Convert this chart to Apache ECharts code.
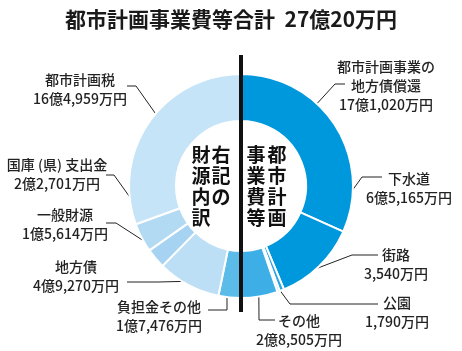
<!DOCTYPE html>
<html>
<head>
<meta charset="utf-8">
<script src="https://cdn.jsdelivr.net/npm/echarts@6/dist/echarts.min.js"></script>
<style>
  html, body { margin: 0; padding: 0; background: #fff; }
  #chart { width: 462px; height: 351px; }
</style>
</head>
<body>
<div id="chart"></div>
<script>
  // 単位: 万円
  var names = ['都市計画事業の\n地方債償還', '下水道', '街路', '公園', 'その他',
               '負担金その他', '地方債', '一般財源', '国庫 (県) 支出金', '都市計画税'];
  var values = [171020, 65165, 3540, 1790, 28505,
                17476, 49270, 15614, 22701, 164959];
  var colors = ['#0098dc', '#0098dc', '#2fa6e4', '#2fa6e4', '#3eaee6',
                '#5bbbe9', '#bcdff5', '#a6d3f1', '#b3daf3', '#c6e4f7'];
  var titleText = '都市計画事業費等合計  27億20万円';

  var cx = 241, cy = 186;
  var total = values.reduce(function (a, b) { return a + b; }, 0);

  // ラベル位置と引出線 (t: スライス内の位置, r: 半径)
  var spots = [
    { x: 386, y: 86,  t: 0.375, r: 90,  bend: [335, 84],  end: [345, 84] },
    { x: 409, y: 188, t: 0.28,  r: 93,  bend: [362, 177], end: [382, 177] },
    { x: 396, y: 264, t: 0.5,   r: 104, bend: [352, 255], end: [378, 255] },
    { x: 397, y: 312, t: 0.5,   r: 106, bend: [290, 304], end: [378, 304] },
    { x: 299, y: 330, t: 0.5,   r: 108, bend: [259, 320], end: [275, 320] },
    { x: 159, y: 316, t: 0.64,  r: 108, bend: [227, 310], end: [208, 310] },
    { x: 76,  y: 276, t: 0.53,  r: 109, bend: [158, 282], end: [127, 282] },
    { x: 65,  y: 224, t: 0.61,  r: 104, bend: [116, 223], end: [106, 223] },
    { x: 57,  y: 174, t: 0.75,  r: 99,  bend: [114, 175], end: [106, 175] },
    { x: 80,  y: 89,  t: 0.53,  r: 99,  bend: [136, 86],  end: [127, 86] }
  ];

  function fmt(v) {
    var oku = Math.floor(v / 10000);
    var man = v % 10000;
    var m = man.toString().replace(/\B(?=(\d{3})+(?!\d))/g, ',');
    return (oku > 0 ? oku + '億' : '') + m + '万円';
  }

  function startPoint(i) {
    var before = 0;
    for (var k = 0; k < i; k++) before += values[k];
    var deg = (before + values[i] * spots[i].t) / total * 360;
    var a = deg * Math.PI / 180;
    return [cx + spots[i].r * Math.sin(a), cy - spots[i].r * Math.cos(a)];
  }

  var pieData = names.map(function (n, i) {
    return { name: n, value: values[i], itemStyle: { color: colors[i] } };
  });

  var chart = echarts.init(document.getElementById('chart'));
  chart.setOption({
    animation: false,
    title: {
      text: titleText,
      left: 'center',
      top: 9,
      padding: 0,
      textStyle: { fontFamily: 'Noto Sans CJK JP', fontSize: 21, fontWeight: 'bold', color: '#1a1a1a' }
    },
    series: [{
      type: 'pie',
      center: [cx, cy],
      radius: [65, 112],
      startAngle: 90,
      clockwise: true,
      avoidLabelOverlap: false,
      emphasis: { disabled: true },
      itemStyle: { borderColor: '#fff', borderWidth: 2 },
      label: {
        show: true,
        position: 'outside',
        formatter: function (p) { return p.name + '\n' + fmt(p.value); },
        fontFamily: 'Noto Sans CJK JP',
        fontSize: 14,
        fontWeight: 500,
        lineHeight: 19,
        color: '#222',
        align: 'center'
      },
      labelLine: { show: true, lineStyle: { color: '#222', width: 1 } },
      labelLayout: function (params) {
        var i = params.dataIndex;
        var s = spots[i];
        return {
          x: s.x,
          y: s.y,
          align: 'center',
          verticalAlign: 'middle',
          labelLinePoints: [startPoint(i), s.bend, s.end]
        };
      },
      data: pieData
    }],
    graphic: [
      {
        type: 'line', z: 100,
        shape: { x1: cx, y1: 55, x2: cx, y2: 312 },
        style: { stroke: '#111', lineWidth: 4 }
      },
      {
        type: 'text', z: 100, x: 277, y: 144,
        style: { text: '都\n市\n計\n画', fontFamily: 'Noto Sans CJK JP', fontSize: 19, fontWeight: 'bold',
                 lineHeight: 21, fill: '#111', textAlign: 'center' }
      },
      {
        type: 'text', z: 100, x: 256, y: 144,
        style: { text: '事\n業\n費\n等', fontFamily: 'Noto Sans CJK JP', fontSize: 19, fontWeight: 'bold',
                 lineHeight: 21, fill: '#111', textAlign: 'center' }
      },
      {
        type: 'text', z: 100, x: 221, y: 144,
        style: { text: '右\n記\nの', fontFamily: 'Noto Sans CJK JP', fontSize: 19, fontWeight: 'bold',
                 lineHeight: 21, fill: '#111', textAlign: 'center' }
      },
      {
        type: 'text', z: 100, x: 201, y: 144,
        style: { text: '財\n源\n内\n訳', fontFamily: 'Noto Sans CJK JP', fontSize: 19, fontWeight: 'bold',
                 lineHeight: 21, fill: '#111', textAlign: 'center' }
      }
    ]
  });
</script>
</body>
</html>
